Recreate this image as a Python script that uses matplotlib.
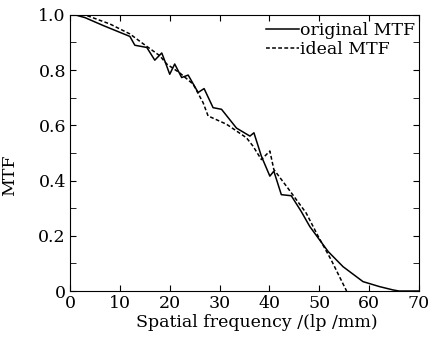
import matplotlib
matplotlib.use('Agg')
from matplotlib import pyplot as plt
from matplotlib.ticker import FuncFormatter, MultipleLocator

# original MTF (solid)
orig_x = [1, 3, 6.7, 12, 13, 15.4, 17, 18.4, 19, 20, 21, 22.4, 23.7, 25.7, 26.9,
          28.7, 30.4, 33.4, 36.1, 36.9, 38.4, 40.1, 40.9, 42.4, 44.4, 46.4, 48.1,
          49.8, 51.8, 54.8, 58.8, 62.1, 64.8, 66, 70]
orig_y = [1.0, 0.99, 0.961, 0.922, 0.89, 0.882, 0.836, 0.862, 0.834, 0.785, 0.822,
          0.773, 0.782, 0.719, 0.733, 0.664, 0.658, 0.59, 0.561, 0.573, 0.488,
          0.416, 0.434, 0.349, 0.345, 0.288, 0.234, 0.192, 0.143, 0.088, 0.034,
          0.016, 0.004, 0.0, 0.0]

# ideal MTF (dashed)
ideal_x = [1, 3.3, 8, 12, 14.7, 18, 19.4, 22, 24.7, 26.7, 27.7, 31.4, 35.4, 36.7,
           38.4, 40.1, 40.9, 43.7, 47.4, 49.8, 52.4, 55.5]
ideal_y = [1.0, 0.998, 0.967, 0.931, 0.895, 0.852, 0.822, 0.79, 0.749, 0.682,
           0.634, 0.604, 0.555, 0.525, 0.476, 0.507, 0.44, 0.373, 0.282, 0.198,
           0.113, 0.0]

plt.rcParams['font.family'] = ['DejaVu Serif']
plt.rcParams['font.size'] = 12.5

fig = plt.figure(figsize=(4.3, 3.38), dpi=100)
ax = fig.add_axes([0.163, 0.139, 0.811, 0.817])
ax.plot(orig_x, orig_y, 'k-', lw=1.1, label='original MTF')
ax.plot(ideal_x, ideal_y, 'k--', lw=1.1, dashes=(2.5, 1.5), label='ideal MTF')
ax.set_xlim(0, 70)
ax.set_ylim(0, 1.0)
ax.set_xticks(range(0, 71, 10))
ax.set_yticks([0, 0.2, 0.4, 0.6, 0.8, 1.0])
ax.yaxis.set_minor_locator(MultipleLocator(0.1))
ax.yaxis.set_major_formatter(FuncFormatter(lambda v, p: '0' if v == 0 else '%.1f' % v))
ax.tick_params(which='both', direction='in', top=True, right=True, length=4, pad=3)
ax.set_xlabel('Spatial frequency /(lp /mm)')
ax.xaxis.set_label_coords(0.536, -0.085)
ax.set_ylabel('MTF')
ax.yaxis.set_label_coords(-0.15, 0.42)
ax.legend(loc='upper right', frameon=False, handlelength=1.9, handletextpad=0.05,
          borderaxespad=0, borderpad=0, bbox_to_anchor=(0.99, 0.975), labelspacing=0.15)
fig.savefig('out.png', dpi=100)
